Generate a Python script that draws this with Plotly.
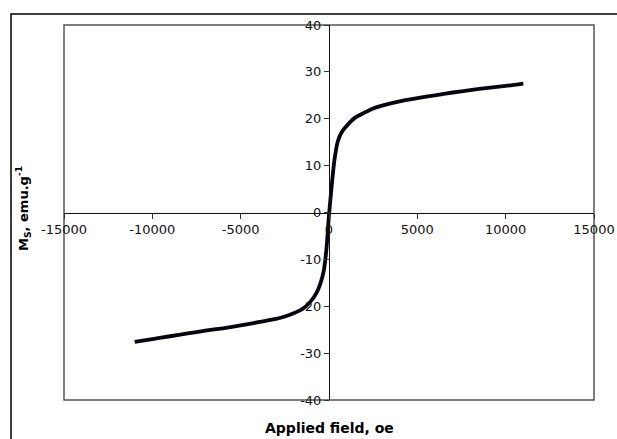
import plotly.graph_objects as go

field = [-11000, -10000, -9000, -8000, -7000, -6000, -5000, -4000, -3000, -2500,
         -2000, -1500, -1000, -700, -500, -300, -150, 0, 150, 300, 500, 700,
         1000, 1500, 2000, 2500, 3000, 4000, 5000, 6000, 7000, 8000, 9000,
         10000, 11000]
ms = [-27.6, -27.0, -26.4, -25.8, -25.2, -24.7, -24.1, -23.4, -22.7, -22.2,
      -21.5, -20.6, -18.8, -17.1, -15.3, -12.5, -8.0, -0.5, 5.6, 11.0, 15.2, 17.0,
      18.5, 20.3, 21.3, 22.2, 22.8, 23.7, 24.4, 25.0, 25.6, 26.1, 26.6,
      27.0, 27.5]

x_ticks = [-15000, -10000, -5000, 0, 5000, 10000, 15000]
y_ticks = [-40, -30, -20, -10, 0, 10, 20, 30, 40]

fig = go.Figure()
fig.add_trace(go.Scatter(x=field, y=ms, mode="lines",
                         line=dict(color="#05050f", width=3.8, shape="spline", smoothing=0.6),
                         showlegend=False, hoverinfo="skip"))

tickfont = dict(family="DejaVu Sans", size=13, color="#111")
fig.update_layout(
    width=617, height=439,
    margin=dict(l=64, r=23, t=25, b=39, autoexpand=False),
    paper_bgcolor="white", plot_bgcolor="white",
    xaxis=dict(range=[-15000, 15000], tickvals=x_ticks, ticktext=[str(v) for v in x_ticks],
               anchor="free", position=0.5, showline=True, linecolor="#111", linewidth=1,
               ticks="outside", ticklen=5, tickcolor="#333", showgrid=False, zeroline=False,
               tickfont=tickfont, automargin=False),
    yaxis=dict(range=[-40, 40], tickvals=y_ticks, ticktext=[str(v) for v in y_ticks],
               anchor="free", position=0.5, showline=True, linecolor="#111", linewidth=1,
               ticks="outside", ticklen=5, tickcolor="#333", showgrid=False, zeroline=False,
               tickfont=tickfont, automargin=False),
    shapes=[
        dict(type="rect", xref="paper", yref="paper", x0=0, x1=1, y0=0, y1=1,
             line=dict(color="#555", width=1.5), layer="below"),
        dict(type="rect", xref="paper", yref="paper", x0=-0.1, x1=1.12, y0=-0.16, y1=1.0293,
             line=dict(color="#000", width=1.5), layer="below"),
    ],
    annotations=[
        dict(text="<b>Applied field, oe</b>", xref="paper", yref="paper", x=0.5, y=-0.075,
             xanchor="center", yanchor="middle", showarrow=False,
             font=dict(family="DejaVu Sans", size=14, color="#000")),
        dict(text="<b>M<sub>S</sub>, emu.g<sup>-1</sup></b>", xref="paper", yref="paper",
             x=-0.077, y=0.51, xanchor="center", yanchor="middle", textangle=-90, showarrow=False,
             font=dict(family="DejaVu Sans", size=13, color="#000")),
    ],
)

fig.write_html("out.html", config={"displayModeBar": False},
               post_script="document.body.style.margin='0';document.body.style.overflow='hidden';")
